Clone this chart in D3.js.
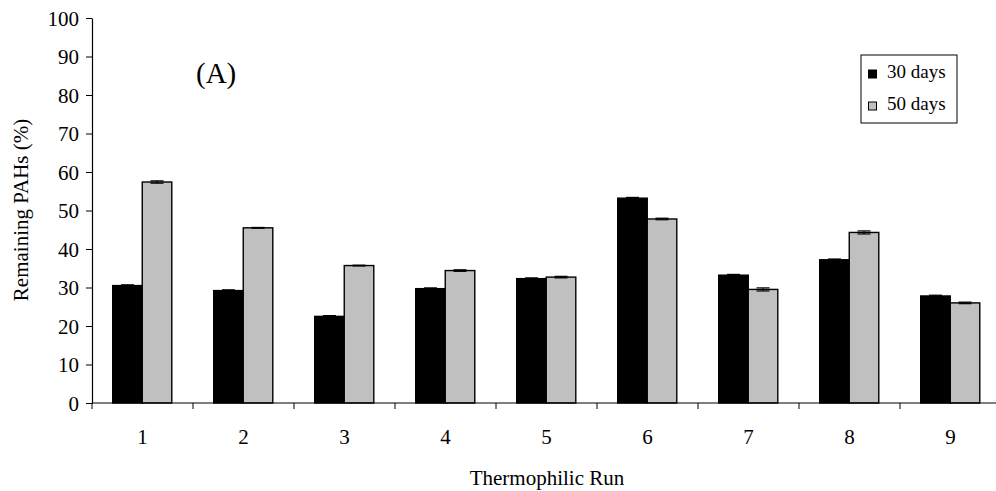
<!DOCTYPE html>
<html>
<head>
<meta charset="utf-8">
<script src="https://cdn.jsdelivr.net/npm/d3@7/dist/d3.min.js"></script>
<style>
  html, body { margin: 0; padding: 0; background: #fff; }
  svg { display: block; font-family: "Liberation Serif", "Times New Roman", serif; }
</style>
</head>
<body>
<svg id="chart" width="996" height="491"></svg>
<script>
// Remaining PAHs after composting, per thermophilic run
const runs = ["1", "2", "3", "4", "5", "6", "7", "8", "9"];
const days30 = [30.5, 29.2, 22.5, 29.7, 32.3, 53.2, 33.2, 37.2, 27.8];
const days50 = [57.4, 45.5, 35.7, 34.4, 32.7, 47.8, 29.5, 44.3, 26.0];
const err30 = [0.2, 0.2, 0.2, 0.2, 0.2, 0.2, 0.2, 0.2, 0.2];
const err50 = [0.3, 0.1, 0.1, 0.2, 0.2, 0.2, 0.4, 0.4, 0.2];
const seriesNames = ["30 days", "50 days"];
const seriesColors = ["#000000", "#c0c0c0"];
const yTicks = [0, 10, 20, 30, 40, 50, 60, 70, 80, 90, 100];

const FONT = "Liberation Serif, Times New Roman, serif";
const svg = d3.select("#chart");

const x = d3.scaleBand().domain(runs).range([92, 1001]).padding(0);
const xs = d3.scaleBand().domain(seriesNames)
  .range([x.bandwidth() * 0.205, x.bandwidth() * 0.79]).padding(0);
const y = d3.scaleLinear().domain([0, 100]).range([403, 18]);

// Y axis
const yAxis = svg.append("g").attr("transform", "translate(92,0)")
  .call(d3.axisLeft(y).tickValues(yTicks).tickSize(6).tickSizeOuter(0).tickPadding(7));
yAxis.select(".domain").attr("stroke", "#000").attr("stroke-width", 1.2);
yAxis.selectAll(".tick line").attr("stroke", "#000").attr("stroke-width", 1);
yAxis.selectAll(".tick text").attr("font-size", 21).attr("fill", "#000")
  .attr("font-family", FONT).attr("dy", "0.34em");

// Bars
const rows = runs.map((r, i) => ({ run: r, vals: [
  { s: seriesNames[0], v: days30[i], e: err30[i], c: seriesColors[0] },
  { s: seriesNames[1], v: days50[i], e: err50[i], c: seriesColors[1] }
] }));

const groups = svg.append("g").selectAll("g").data(rows).join("g")
  .attr("transform", d => `translate(${x(d.run)},0)`);

groups.selectAll("rect").data(d => d.vals).join("rect")
  .attr("x", d => xs(d.s))
  .attr("y", d => y(d.v))
  .attr("width", xs.bandwidth())
  .attr("height", d => y(0) - y(d.v))
  .attr("fill", d => d.c)
  .attr("stroke", "#000")
  .attr("stroke-width", 1.4);

// Error bars
const eb = groups.selectAll("g.err").data(d => d.vals).join("g").attr("class", "err");
eb.append("line")
  .attr("x1", d => xs(d.s) + xs.bandwidth() / 2)
  .attr("x2", d => xs(d.s) + xs.bandwidth() / 2)
  .attr("y1", d => y(d.v + d.e)).attr("y2", d => y(d.v - d.e))
  .attr("stroke", "#000").attr("stroke-width", 1.2);
eb.selectAll("line.cap").data(d => [{ d, k: d.v + d.e }, { d, k: d.v - d.e }]).join("line")
  .attr("class", "cap")
  .attr("x1", o => xs(o.d.s) + xs.bandwidth() / 2 - 6.5)
  .attr("x2", o => xs(o.d.s) + xs.bandwidth() / 2 + 6.5)
  .attr("y1", o => y(o.k)).attr("y2", o => y(o.k))
  .attr("stroke", "#000").attr("stroke-width", 1.2);

// X axis with ticks between categories
const xAxisG = svg.append("g").attr("transform", `translate(0,${y(0)})`);
xAxisG.append("line").attr("x1", 92).attr("x2", 1001).attr("y1", 0).attr("y2", 0)
  .attr("stroke", "#000").attr("stroke-width", 1.2);
xAxisG.selectAll("line.tk").data(runs).join("line").attr("class", "tk")
  .attr("x1", d => x(d)).attr("x2", d => x(d)).attr("y1", 0).attr("y2", 6)
  .attr("stroke", "#000").attr("stroke-width", 1);
xAxisG.selectAll("text").data(runs).join("text")
  .attr("x", d => x(d) + x.bandwidth() / 2).attr("y", 41)
  .attr("text-anchor", "middle").attr("font-size", 21).text(d => d);

// Axis titles
svg.append("text").attr("x", 547).attr("y", 485).attr("text-anchor", "middle")
  .attr("font-size", 21).text("Thermophilic Run");
svg.append("text").attr("transform", "translate(28,210) rotate(-90)")
  .attr("text-anchor", "middle").attr("font-size", 21).text("Remaining PAHs (%)");

// Panel label
svg.append("text").attr("x", 196).attr("y", 83).attr("font-size", 29).text("(A)");

// Legend
const lg = svg.append("g").attr("transform", "translate(861,55)");
lg.append("rect").attr("x", 0).attr("y", 0).attr("width", 96).attr("height", 68)
  .attr("fill", "#fff").attr("stroke", "#000").attr("stroke-width", 1);
seriesNames.forEach((n, i) => {
  lg.append("rect").attr("x", 7.5).attr("y", 15 + i * 32).attr("width", 8).attr("height", 8)
    .attr("fill", seriesColors[i]).attr("stroke", "#000").attr("stroke-width", 1);
  lg.append("text").attr("x", 26).attr("y", 23 + i * 32).attr("font-size", 19).text(n);
});
</script>
</body>
</html>
